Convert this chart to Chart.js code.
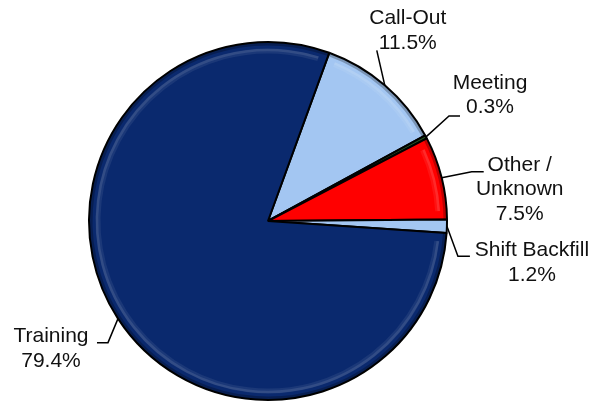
<!DOCTYPE html>
<html>
<head>
<meta charset="utf-8">
<script src="https://cdn.jsdelivr.net/npm/chart.js@4/dist/chart.umd.min.js"></script>
<style>
  html, body { margin: 0; padding: 0; background: #ffffff; }
  #wrap { width: 611px; height: 405px; }
</style>
</head>
<body>
<div id="wrap"><canvas id="c" width="611" height="405"></canvas></div>
<script>
// ---- data ----
const categories = ['Call-Out', 'Meeting', 'Other / Unknown', 'Shift Backfill', 'Training'];
const labelLines = [['Call-Out'], ['Meeting'], ['Other /', 'Unknown'], ['Shift Backfill'], ['Training']];
const values = [11.5, 0.3, 7.5, 1.2, 79.4];
const sliceColors = ['#a3c6f2', '#24521f', '#ff0000', '#a3c6f2', '#0a296e'];

// ---- label leader layout (offsets from slice edge midpoint) ----
// [elbowDx, elbowDy, endDx, endDy, textDx, textDy(first line centre)]
const leaderLayout = [
  [-8, -35, -8, -35, 23, -67],
  [23, -21, 34, -21, 64, -54],
  [30, -6, 42, -6, 78, -13],
  [11, 30, 23, 30, 85, 24],
  [-10, 24, -21, 24, -67, 18]
];

const bevelPlugin = {
  id: 'bevel',
  afterDatasetsDraw(chart) {
    const ctx = chart.ctx;
    const meta = chart.getDatasetMeta(0);
    ctx.save();
    meta.data.forEach((arc) => {
      const p = arc.getProps(['x', 'y', 'startAngle', 'endAngle', 'outerRadius'], true);
      const span = p.endAngle - p.startAngle;
      if (span < 0.2) return;
      // soft light bevel ring inside the rim
      [[9, 5, 0.07], [8, 2.5, 0.1]].forEach(([d, w, a]) => {
        ctx.beginPath();
        ctx.arc(p.x, p.y, p.outerRadius - d, p.startAngle + 0.05, p.endAngle - 0.05);
        ctx.strokeStyle = 'rgba(255,255,255,' + a + ')';
        ctx.lineWidth = w;
        ctx.stroke();
      });
      // dark rim
      ctx.beginPath();
      ctx.arc(p.x, p.y, p.outerRadius - 2, p.startAngle, p.endAngle);
      ctx.strokeStyle = 'rgba(0,0,0,0.25)';
      ctx.lineWidth = 3;
      ctx.stroke();
    });
    ctx.restore();
  }
};

const labelPlugin = {
  id: 'outLabels',
  afterDatasetsDraw(chart) {
    const ctx = chart.ctx;
    const meta = chart.getDatasetMeta(0);
    ctx.save();
    ctx.font = '21px "Liberation Sans", Arial, sans-serif';
    ctx.textAlign = 'center';
    ctx.textBaseline = 'middle';
    meta.data.forEach((arc, i) => {
      const p = arc.getProps(['x', 'y', 'startAngle', 'endAngle', 'outerRadius'], true);
      const mid = (p.startAngle + p.endAngle) / 2;
      const ex = p.x + Math.cos(mid) * p.outerRadius;
      const ey = p.y + Math.sin(mid) * p.outerRadius;
      const L = leaderLayout[i];
      ctx.strokeStyle = '#000';
      ctx.lineWidth = 1.5;
      ctx.beginPath();
      ctx.moveTo(ex, ey);
      ctx.lineTo(ex + L[0], ey + L[1]);
      ctx.lineTo(ex + L[2], ey + L[3]);
      ctx.stroke();
      const lines = labelLines[i].concat([values[i].toFixed(1) + '%']);
      ctx.fillStyle = '#111';
      lines.forEach((t, k) => {
        ctx.fillText(t, ex + L[4], ey + L[5] + k * 24.5);
      });
    });
    ctx.restore();
  }
};

new Chart(document.getElementById('c'), {
  type: 'pie',
  data: {
    labels: categories,
    datasets: [{
      data: values,
      backgroundColor: sliceColors,
      borderColor: '#000',
      borderWidth: 2
    }]
  },
  options: {
    responsive: false,
    animation: false,
    events: [],
    rotation: 20,
    radius: 179,
    layout: { padding: { left: 0, right: 75, top: 37, bottom: 0 } },
    plugins: {
      legend: { display: false },
      tooltip: { enabled: false }
    }
  },
  plugins: [bevelPlugin, labelPlugin]
});
</script>
</body>
</html>
